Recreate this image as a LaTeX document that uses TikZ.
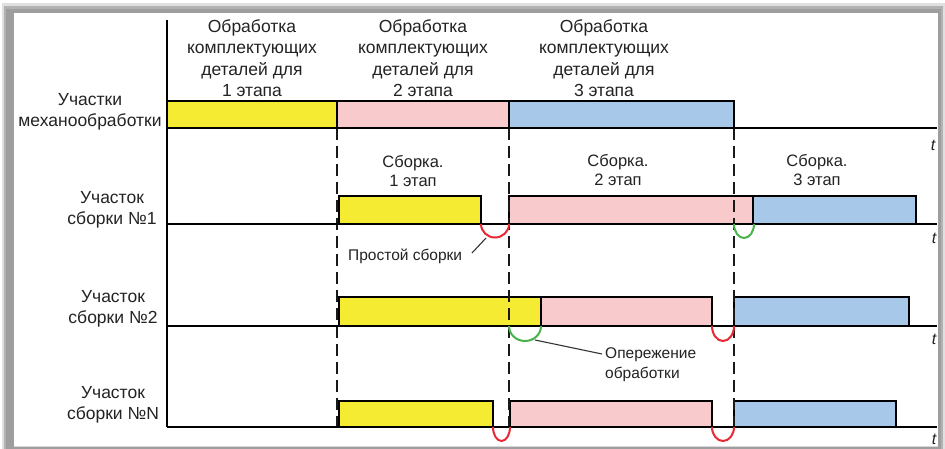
\documentclass[tikz,border=0pt]{standalone}
\usepackage{fontspec}
\setmainfont{Liberation Sans}
\definecolor{yel}{RGB}{245,235,50}
\definecolor{pnk}{RGB}{248,202,204}
\definecolor{blu}{RGB}{167,200,232}
\definecolor{redarc}{RGB}{232,40,52}
\definecolor{grnarc}{RGB}{70,180,75}
\definecolor{txt}{RGB}{35,35,35}
\begin{document}
\begin{tikzpicture}[x=1pt,y=-1pt,
  bar/.style={draw=black,line width=1.6pt,anchor=north west,inner sep=0pt,outer sep=0pt},
  base/.style={line width=1.9pt},
  guide/.style={line width=1.3pt,dash pattern=on 12pt off 6pt,draw=black!90},
  head/.style={font=\fontsize{17.5}{21.5}\selectfont,text=txt,align=center,inner sep=0pt},
  lbl/.style={font=\fontsize{17.5}{21.5}\selectfont,text=txt,align=center,inner sep=0pt},
  asm/.style={font=\fontsize{16.5}{19}\selectfont,text=txt,align=center,inner sep=0pt},
  note/.style={font=\fontsize{15.5}{20}\selectfont,text=txt,align=left,inner sep=0pt},
  tl/.style={font=\fontsize{16}{16}\selectfont\itshape,text=txt,inner sep=0pt},
  redc/.style={draw=redarc,line width=2pt},
  grnc/.style={draw=grnarc,line width=2pt},
  lead/.style={draw=black!80,line width=1.1pt}]
\useasboundingbox (0,0) rectangle (945,449);
% frame with shadow
\fill[white] (0,0) rectangle (945,449);
\fill[black!12] (2,3) rectangle (945,449);
\fill[black!30] (4,6) rectangle (943,449);
\fill[black!38] (6,9) rectangle (941,449);
\fill[white] (14,13) rectangle (938,446);
\draw[black!15,line width=0.8pt] (14,446.5) -- (938,446.5);

% header texts
\node[head] (h1) at (252,58) {Обработка\\комплектующих\\деталей для\\1 этапа};
\node[head] (h2) at (423,58) {Обработка\\комплектующих\\деталей для\\2 этапа};
\node[head] (h3) at (604,58) {Обработка\\комплектующих\\деталей для\\3 этапа};

% row labels
\node[lbl] (l1) at (90,112) {Участки\\механообработки};
\node[lbl] (l2) at (112,210) {Участок\\сборки №1};
\node[lbl] (l3) at (113,309) {Участок\\сборки №2};
\node[lbl] (l4) at (113,405) {Участок\\сборки №N};

% row 1 bars
\node[bar,fill=yel,minimum width=170pt,minimum height=27pt] (m1) at (167,101) {};
\node[bar,fill=pnk,minimum width=172pt,minimum height=27pt] (m2) at (337,101) {};
\node[bar,fill=blu,minimum width=225pt,minimum height=27pt] (m3) at (509,101) {};

% row 2 bars
\node[bar,fill=yel,minimum width=142pt,minimum height=28pt] (a1) at (339,196) {};
\node[bar,fill=pnk,minimum width=244pt,minimum height=28pt] (a2) at (509,196) {};
\node[bar,fill=blu,minimum width=163pt,minimum height=28pt] (a3) at (753,196) {};

% row 3 bars
\node[bar,fill=yel,minimum width=202pt,minimum height=29pt] (b1) at (339,297) {};
\node[bar,fill=pnk,minimum width=171pt,minimum height=29pt] (b2) at (541,297) {};
\node[bar,fill=blu,minimum width=175pt,minimum height=29pt] (b3) at (734,297) {};

% row 4 bars
\node[bar,fill=yel,minimum width=154pt,minimum height=26pt] (c1) at (339,401) {};
\node[bar,fill=pnk,minimum width=202pt,minimum height=26pt] (c2) at (510,401) {};
\node[bar,fill=blu,minimum width=162pt,minimum height=26pt] (c3) at (734,401) {};

% guide coordinates
\coordinate (g1t) at (337,128); \coordinate (g1b) at (337,427);
\coordinate (g2t) at (509,128); \coordinate (g2b) at (509,427);
\coordinate (g3t) at (734,128); \coordinate (g3b) at (734,427);
\draw[guide] (g1t) -- (g1b);
\draw[guide] (g2t) -- (g2b);
\draw[guide] (g3t) -- (g3b);

% axis and baselines
\coordinate (ax0) at (167,20);
\coordinate (r1s) at (167,128); \coordinate (r1e) at (937,128);
\coordinate (r2s) at (167,224); \coordinate (r2e) at (937,224);
\coordinate (r3s) at (167,326); \coordinate (r3e) at (937,326);
\coordinate (r4s) at (167,427); \coordinate (r4e) at (937,427);
\draw[base] (ax0) -- (r4s);
\draw[base] (r1s) -- (r1e);
\draw[base] (r2s) -- (r2e);
\draw[base] (r3s) -- (r3e);
\draw[base] (r4s) -- (r4e);

% t labels
\node[tl] (t1) at (933,145) {t};
\node[tl] (t2) at (934,238) {t};
\node[tl] (t3) at (934,339) {t};
\node[tl] (t4) at (934,439) {t};

% assembly labels
\node[asm] (s1) at (413,171) {Сборка.\\1 этап};
\node[asm] (s2) at (618,170) {Сборка.\\2 этап};
\node[asm] (s3) at (817,170) {Сборка.\\3 этап};

% arcs (y axis points down, so 180 -> 0 passes below the line)
\coordinate (rA) at (481,224);
\draw[redc] (rA) arc[start angle=180,end angle=0,x radius=14,y radius=13.5];
\coordinate (gA) at (734,224);
\draw[grnc] (gA) arc[start angle=180,end angle=0,x radius=10,y radius=14];
\coordinate (gB) at (509,326);
\draw[grnc] (gB) arc[start angle=180,end angle=0,x radius=16,y radius=15];
\coordinate (rB) at (712,326);
\draw[redc] (rB) arc[start angle=180,end angle=0,x radius=11,y radius=15];
\coordinate (rC) at (493,427);
\draw[redc] (rC) arc[start angle=180,end angle=0,x radius=8.5,y radius=14];
\coordinate (rD) at (712,427);
\draw[redc] (rD) arc[start angle=180,end angle=0,x radius=11,y radius=14];

% annotations
\node[note,anchor=west] (n1) at (348,256) {Простой сборки};
\coordinate (n1a) at (472,253);
\coordinate (n1b) at (486,238);
\draw[lead] (n1a) -- (n1b);
\node[note,anchor=west] (n2) at (605,365) {Опережение\\обработки};
\coordinate (n2a) at (535,340);
\coordinate (n2b) at (602,354);
\draw[lead] (n2a) -- (n2b);
\end{tikzpicture}
\end{document}
